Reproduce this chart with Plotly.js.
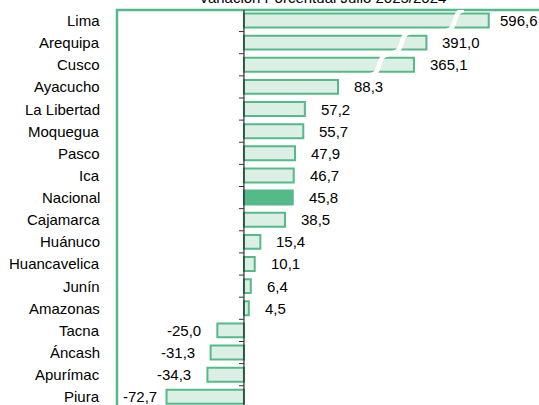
<!DOCTYPE html>
<html>
<head>
<meta charset="utf-8">
<script src="https://cdn.plot.ly/plotly-3.0.1.min.js"></script>
<style>html,body{margin:0;padding:0;background:#fff;}#chart{width:539px;height:405px;}</style>
</head>
<body>
<div id="chart"></div>
<script>
const categories = ['Lima','Arequipa','Cusco','Ayacucho','La Libertad','Moquegua','Pasco','Ica','Nacional','Cajamarca','Huánuco','Huancavelica','Junín','Amazonas','Tacna','Áncash','Apurímac','Piura'];
const values = [596.6,391.0,365.1,88.3,57.2,55.7,47.9,46.7,45.8,38.5,15.4,10.1,6.4,4.5,-25.0,-31.3,-34.3,-72.7];
// bars drawn on a broken axis: shown length on the compressed scale and where the break sits
const brokenCats = ['Lima','Arequipa','Cusco'];
const brokenShown = [229.8,171.3,159.6];
const brokenAt = [198,148,127];
const highlightCat = 'Nacional';
const titleText = 'Variación Porcentual Julio 2025/2024';

const GREEN = '#55b98a';
const FILL = '#dcefe5';
const FONT = 'Liberation Sans, Arial, sans-serif';
const FS = 15;

const W = 539, H = 405, ML = 117, MR = 0, MT = 10, MB = 0;
const XR = [-119.2, 277.0];

const idx = categories.map((c,i)=>i);
const shown = categories.map((c,i)=>{
  const b = brokenCats.indexOf(c);
  return b>=0 ? brokenShown[b] : values[i];
});
const fmt = v => v.toFixed(1).replace('.',',');

const cvs = document.createElement('canvas').getContext('2d');
cvs.font = FS + 'px "Liberation Sans", Arial, sans-serif';
const toPx = x => ML + (x - XR[0])/(XR[1]-XR[0])*(W-ML-MR);

const trace = {
  type:'bar', orientation:'h',
  y: idx, x: shown, width:0.63,
  marker:{
    color: categories.map(c=> c===highlightCat ? GREEN : FILL),
    line:{color:GREEN, width:2}
  },
  hoverinfo:'skip'
};

const shapes = [];
// frame
shapes.push({type:'rect', xref:'paper', yref:'paper', x0:0, x1:1.05, y0:-0.05, y1:1,
  line:{color:GREEN, width:2.5}, fillcolor:'rgba(0,0,0,0)', layer:'above'});
// zero line
shapes.push({type:'line', xref:'x', yref:'paper', x0:0, x1:0, y0:0, y1:1,
  line:{color:'#000', width:1}, layer:'above'});
// category boundary ticks
for (let i=0;i<categories.length-1;i++){
  shapes.push({type:'line', xref:'x', yref:'y', xsizemode:'pixel', xanchor:0,
    x0:-5, x1:0, y0:i+0.5, y1:i+0.5, line:{color:'#333', width:1}, layer:'above'});
}
// axis break marks (S-curves)
brokenCats.forEach((c,b)=>{
  const i = categories.indexOf(c);
  const cx = brokenAt[b];
  const a = 8.5, h = 0.46;
  const path = `M ${cx-a},${i+h} C ${cx+a*0.35},${i+h} ${cx-a*0.35},${i-h} ${cx+a},${i-h}`;
  shapes.push({type:'path', xref:'x', yref:'y', path:path, line:{color:'#fff', width:4.5}, layer:'above'});
});

const annotations = [];
categories.forEach((c,i)=>{
  annotations.push({xref:'paper', yref:'y', x:0, y:i, text:c, showarrow:false,
    xanchor:'right', yanchor:'middle', xshift:-15, font:{family:FONT, size:FS, color:'#000'}});
  const v = values[i];
  const t = fmt(v);
  const tw = cvs.measureText(t).width;
  const endPx = toPx(shown[i]);
  let shift;
  if (v >= 0) {
    shift = Math.min(14, (W - 3) - tw - endPx);
  } else {
    shift = -Math.min(14, endPx - tw - (ML + 8));
  }
  annotations.push({xref:'x', yref:'y', x:shown[i], y:i, text:t, showarrow:false,
    xanchor: v>=0 ? 'left':'right', yanchor:'middle', xshift: shift,
    font:{family:FONT, size:FS, color:'#000'}});
});
annotations.push({xref:'paper', yref:'paper', x:0.486, y:1, yanchor:'bottom', yshift:2,
  text:titleText, showarrow:false, font:{family:FONT, size:FS, color:'#000'}});

const layout = {
  width:W, height:H,
  margin:{l:ML, r:MR, t:MT, b:MB},
  paper_bgcolor:'#fff', plot_bgcolor:'#fff',
  showlegend:false,
  xaxis:{range:XR, showgrid:false, zeroline:false, showticklabels:false, ticks:'', showline:false, fixedrange:true},
  yaxis:{range:[17.37, -0.474], showgrid:false, zeroline:false, showticklabels:false, ticks:'', showline:false, fixedrange:true},
  shapes:shapes,
  annotations:annotations,
  font:{family:FONT}
};

Plotly.newPlot('chart',[trace],layout,{displayModeBar:false, staticPlot:true});
</script>
</body>
</html>
